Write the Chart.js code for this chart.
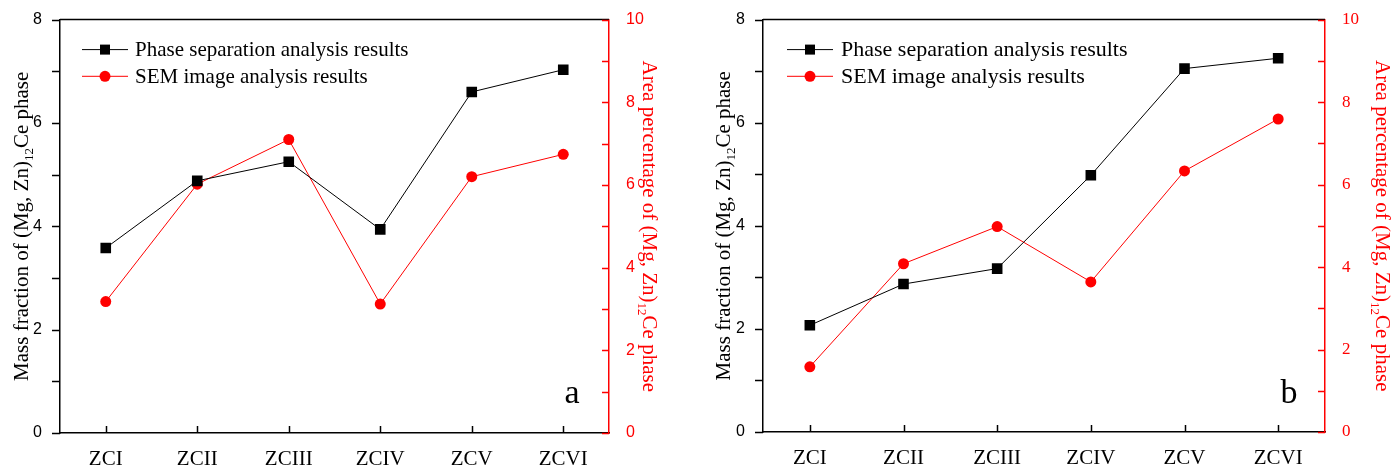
<!DOCTYPE html>
<html>
<head>
<meta charset="utf-8">
<script src="https://cdn.jsdelivr.net/npm/chart.js@4"></script>
<style>
  html, body { margin: 0; padding: 0; background: #fff; }
  #wrap { position: relative; width: 1394px; height: 470px; }
  .panel { position: absolute; top: 0; height: 470px; }
</style>
</head>
<body>
<div id="wrap">
  <div class="panel" style="left:0;width:700px"><canvas id="chartA" width="700" height="470"></canvas></div>
  <div class="panel" style="left:700px;width:694px"><canvas id="chartB" width="694" height="470"></canvas></div>
</div>
<script>
// categories and values
const categories = ['ZCI', 'ZCII', 'ZCIII', 'ZCIV', 'ZCV', 'ZCVI'];
const massA = [3.58, 4.88, 5.25, 3.94, 6.60, 7.03];
const areaA = [3.18, 6.02, 7.10, 3.12, 6.20, 6.74];
const massB = [2.07, 2.87, 3.17, 4.98, 7.05, 7.25];
const areaB = [1.58, 4.08, 4.98, 3.64, 6.33, 7.59];
const leftTickLabels = [0, 2, 4, 6, 8];
const rightTickLabels = [0, 2, 4, 6, 8, 10];
const seriesNames = ['Phase separation analysis results', 'SEM image analysis results'];

const SANS = '"Liberation Sans", Arial, sans-serif';
const SERIF = '"Liberation Serif", "Times New Roman", serif';
const RED = '#ff0000';

// draw a rotated title with a "12" subscript
function drawSubTitle(ctx, cx, cy, angle, color, size) {
  const parts = ['Mass fraction of (Mg, Zn)', '12', 'Ce phase'];
  if (angle > 0) parts[0] = 'Area percentage of (Mg, Zn)';
  const main = size + 'px ' + SERIF;
  const sub = Math.round(size * 0.6) + 'px ' + SERIF;
  ctx.save();
  ctx.translate(cx, cy);
  ctx.rotate(angle);
  ctx.fillStyle = color;
  ctx.textBaseline = 'alphabetic';
  ctx.textAlign = 'left';
  ctx.font = main;
  const w0 = ctx.measureText(parts[0]).width;
  const w2 = ctx.measureText(parts[2]).width;
  ctx.font = sub;
  const w1 = ctx.measureText(parts[1]).width;
  let x = -(w0 + w1 + w2) / 2;
  const base = size * 0.33;
  ctx.font = main;
  ctx.fillText(parts[0], x, base);
  x += w0;
  ctx.font = sub;
  ctx.fillText(parts[1], x, base + size * 0.25);
  x += w1;
  ctx.font = main;
  ctx.fillText(parts[2], x, base);
  ctx.restore();
}

const decorPlugin = {
  id: 'decor',
  afterDraw(chart, args, opts) {
    const ctx = chart.ctx;
    const a = chart.chartArea;
    const xs = chart.scales.x, ys = chart.scales.y, ys1 = chart.scales.y1;
    ctx.save();
    ctx.lineWidth = 1.5;

    // top frame line
    ctx.strokeStyle = '#000';
    ctx.beginPath();
    ctx.moveTo(a.left, a.top);
    ctx.lineTo(a.right, a.top);
    ctx.stroke();

    // left ticks, pointing out
    ctx.beginPath();
    ys.ticks.forEach(t => {
      const py = Math.round(ys.getPixelForValue(t.value)) + 0.5;
      ctx.moveTo(a.left - 8, py);
      ctx.lineTo(a.left, py);
    });
    // bottom ticks, pointing in
    xs.ticks.forEach((t, i) => {
      const px = Math.round(xs.getPixelForTick(i)) + 0.5;
      ctx.moveTo(px, a.bottom);
      ctx.lineTo(px, a.bottom - 7);
    });
    ctx.stroke();

    // right ticks, pointing in
    ctx.strokeStyle = RED;
    ctx.beginPath();
    ys1.ticks.forEach(t => {
      const py = Math.round(ys1.getPixelForValue(t.value)) + 0.5;
      ctx.moveTo(a.right - 7, py);
      ctx.lineTo(a.right, py);
    });
    ctx.stroke();

    // axis titles
    const midY = (a.top + a.bottom) / 2;
    drawSubTitle(ctx, opts.leftTitleX, midY, -Math.PI / 2, '#000', 21);
    drawSubTitle(ctx, opts.rightTitleX, midY, Math.PI / 2, RED, 21);

    // legend inside plot
    chart.data.datasets.forEach((ds, i) => {
      const ly = a.top + opts.legendTop + i * 26.7;
      const x0 = a.left + opts.legendLeft;
      ctx.strokeStyle = ds.borderColor;
      ctx.lineWidth = 1;
      ctx.beginPath();
      ctx.moveTo(x0, ly);
      ctx.lineTo(x0 + 46, ly);
      ctx.stroke();
      ctx.fillStyle = ds.borderColor;
      if (ds.pointStyle === 'rect') {
        ctx.fillRect(x0 + 23 - 5, ly - 5, 10, 10);
      } else {
        ctx.beginPath();
        ctx.arc(x0 + 23, ly, 5.5, 0, Math.PI * 2);
        ctx.fill();
      }
      ctx.fillStyle = '#000';
      ctx.font = opts.legendSize + 'px ' + SERIF;
      ctx.textBaseline = 'middle';
      ctx.textAlign = 'left';
      ctx.fillText(ds.label, a.left + opts.legendText, ly + 1);
    });

    // panel letter
    ctx.fillStyle = '#000';
    ctx.font = '34px ' + SERIF;
    ctx.textAlign = 'center';
    ctx.textBaseline = 'alphabetic';
    ctx.fillText(opts.letter, opts.letterX, 403);
    ctx.restore();
  }
};

function makeChart(id, mass, area, box, decor, rightFont) {
  const ctx = document.getElementById(id).getContext('2d');
  return new Chart(ctx, {
    type: 'line',
    data: {
      labels: categories,
      datasets: [{
        label: seriesNames[0],
        data: mass,
        yAxisID: 'y',
        borderColor: '#000',
        backgroundColor: '#000',
        borderWidth: 1,
        pointStyle: 'rect',
        pointRadius: 7.5,
        pointBorderWidth: 0,
        tension: 0
      }, {
        label: seriesNames[1],
        data: area,
        yAxisID: 'y1',
        borderColor: RED,
        backgroundColor: RED,
        borderWidth: 1,
        pointStyle: 'circle',
        pointRadius: 5.5,
        pointBorderWidth: 0,
        tension: 0
      }]
    },
    options: {
      responsive: false,
      animation: false,
      layout: { padding: { top: box.top, left: 0, right: 0, bottom: 0 } },
      plugins: {
        legend: { display: false },
        tooltip: { enabled: false },
        decor: decor
      },
      scales: {
        x: {
          offset: true,
          grid: { display: false },
          border: { display: true, color: '#000', width: 1.5 },
          ticks: { color: '#000', padding: 6, font: { family: SERIF, size: 21 } },
          afterFit(scale) { scale.height = box.xHeight; }
        },
        y: {
          position: 'left',
          min: 0, max: 8,
          grid: { display: false },
          border: { display: true, color: '#000', width: 1.5 },
          ticks: {
            stepSize: 1, autoSkip: false, padding: 10, color: '#000',
            font: { family: SANS, size: 16 },
            callback: v => leftTickLabels.includes(v) ? v : ''
          },
          afterFit(scale) { scale.width = box.leftW; }
        },
        y1: {
          position: 'right',
          min: 0, max: 10,
          grid: { display: false },
          border: { display: true, color: RED, width: 1.5 },
          ticks: {
            stepSize: 1, autoSkip: false, padding: 9, color: RED,
            font: { family: rightFont.family, size: rightFont.size },
            callback: v => rightTickLabels.includes(v) ? v : ''
          },
          afterFit(scale) { scale.width = box.rightW; }
        }
      }
    },
    plugins: [decorPlugin]
  });
}

window.chartA = makeChart('chartA', massA, areaA,
  { top: 17, xHeight: 37, leftW: 60, rightW: 91 },
  { letter: 'a', letterX: 572, leftTitleX: 21, rightTitleX: 650,
    legendTop: 30, legendLeft: 22, legendText: 75, legendSize: 21 },
  { family: SANS, size: 16 });

window.chartB = makeChart('chartB', massB, areaB,
  { top: 13, xHeight: 38, leftW: 63, rightW: 69 },
  { letter: 'b', letterX: 589, leftTitleX: 23, rightTitleX: 683,
    legendTop: 30, legendLeft: 24, legendText: 78, legendSize: 22 },
  { family: SERIF, size: 17 });
</script>
</body>
</html>
